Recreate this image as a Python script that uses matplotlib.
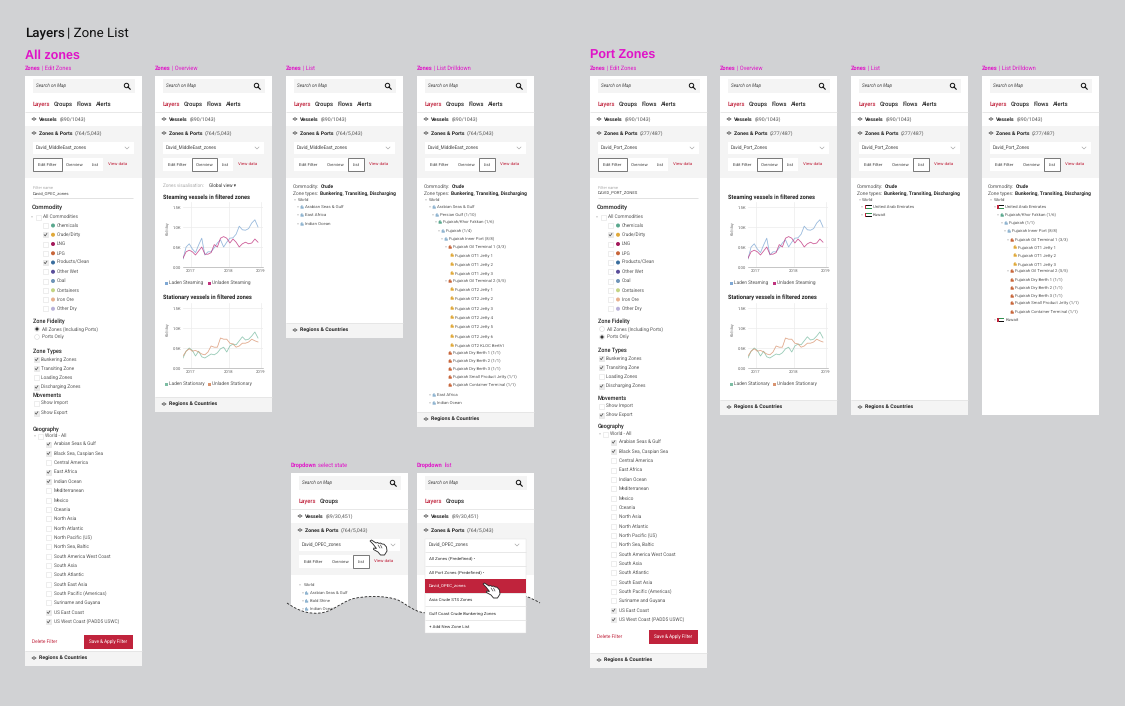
import numpy as np
import pandas as pd
import matplotlib
matplotlib.use('Agg')
import matplotlib.pyplot as plt
from matplotlib.patches import Rectangle, Circle, Polygon, PathPatch
from matplotlib.path import Path

plt.rcParams['font.family'] = ['Roboto', 'DejaVu Sans']
plt.rcParams['text.hinting'] = 'none'

# data
months = pd.date_range('2016-10-16', periods=25, freq='30D')
laden_steering = [.20, .50, .58, .45, .36, .55, .72, .30, .38, .38, .48, .60, .68, .50, .62, .72, .73, .82, 1.02, .93, .92, .96, 1.10, 1.18, 1.00]
unladen_steering = [.22, .38, .42, .38, .30, .40, .50, .32, .32, .36, .56, .50, .72, .76, .72, .60, .70, .62, .50, .58, .62, .58, .60, .70, .62]
laden_stationary = [.25, .42, .50, .44, .30, .42, .28, .25, .30, .35, .33, .38, .48, .52, .40, .55, .60, .58, .68, .78, .70, .72, .80, .90, .75]
unladen_stationary = [.30, .42, .48, .42, .44, .40, .35, .33, .40, .55, .52, .52, .75, .72, .72, .62, .60, .52, .55, .62, .62, .65, .72, .68, .65]
y_ticks = [0, .5, 1.0, 1.5]
y_labels = ['0.00', '0.5K', '1.0K', '1.5K']
x_labels = ['2017', '2018', '2019']

commodities = ['Chemicals', 'Crude/Dirty', 'LNG', 'LPG', 'Products/Clean', 'Other Wet', 'Coal', 'Containers', 'Iron Ore', 'Other Dry']
commodity_colors = ['#5aa88e', '#e0a93a', '#a3195b', '#c8663a', '#3a6e9e', '#5a4e9a', '#6e94b8', '#c4d484', '#e8b08e', '#b8b0d8']
checked_all = [0, 1, 0, 0, 1, 0, 0, 0, 0, 0]
checked_port = [0, 1, 0, 0, 0, 0, 0, 0, 0, 0]
zone_types = ['Bunkering Zones', 'Transiting Zone', 'Loading Zones', 'Discharging Zones']
zone_types_on = [1, 1, 0, 1]
geography = ['Arabian Seas & Gulf', 'Black Sea, Caspian Sea', 'Central America', 'East Africa', 'Indian Ocean',
             'Mediterranean', 'Mexico', 'Oceania', 'North Asia', 'North Atlantic', 'North Pacific (US)',
             'North Sea, Baltic', 'South America West Coast', 'South Asia', 'South Atlantic', 'South East Asia',
             'South Pacific (Americas)', 'Suriname and Guyana', 'US East Coast', 'US West Coast (PADD5 USWC)']
geo_all_on = [1, 1, 0, 1, 1, 0, 0, 0, 0, 0, 0, 0, 0, 0, 0, 0, 0, 0, 1, 1]
geo_port_on = [1, 1, 0, 0, 0, 0, 0, 0, 0, 0, 0, 0, 0, 0, 0, 0, 0, 0, 1, 1]
drill_labels = ['Arabian Seas & Gulf', 'Persian Gulf (1/10)', 'Fujairah/Khor Fakkan (1/6)', 'Fujairah (1/4)',
                'Fujairah Inner Port (8/8)', 'Fujairah Oil Terminal 1 (3/3)', 'Fujairah OT1 Jetty 1', 'Fujairah OT1 Jetty 2',
                'Fujairah OT1 Jetty 3', 'Fujairah Oil Terminal 2 (5/5)', 'Fujairah OT2 Jetty 1', 'Fujairah OT2 Jetty 2',
                'Fujairah OT2 Jetty 3', 'Fujairah OT2 Jetty 4', 'Fujairah OT2 Jetty 5', 'Fujairah OT2 Jetty 6',
                'Fujairah OT2 KLOC Berth1', 'Fujairah Dry Berth 1 (1/1)', 'Fujairah Dry Berth 2 (1/1)', 'Fujairah Dry Berth 3 (1/1)',
                'Fujairah Small Product Jetty (1/1)', 'Fujairah Container Terminal (1/1)', 'East Africa', 'Indian Ocean']
drill_y = [207, 215, 222, 231, 239, 247, 255, 264, 273, 281, 289, 298, 308, 317, 326, 336, 345, 353, 361, 369, 377, 385, 395, 403]
drill_x = [20, 23, 26, 29, 32, 36, 38, 38, 38, 36, 38, 38, 38, 38, 38, 38, 38, 36, 36, 36, 36, 36, 20, 20]
drill_kind = 'bbgbbrjjjrjjjjjjjrrrrrbb'
port_labels = ['Fujairah/Khor Fakkan (1/6)', 'Fujairah (1/1)', 'Fujairah Inner Port (8/8)', 'Fujairah Oil Terminal 1 (3/3)',
               'Fujairah OT1 Jetty 1', 'Fujairah OT1 Jetty 2', 'Fujairah OT1 Jetty 3', 'Fujairah Oil Terminal 2 (5/5)',
               'Fujairah Dry Berth 1 (1/1)', 'Fujairah Dry Berth 2 (1/1)', 'Fujairah Dry Berth 3 (1/1)',
               'Fujairah Small Product Jetty (1/1)', 'Fujairah Container Terminal (1/1)']
port_y = [215, 223, 231, 240, 247, 255, 264, 271, 280, 288, 296, 303, 312]
port_x = [23, 27, 30, 33, 36, 36, 36, 33, 33, 33, 33, 33, 33]
port_kind = 'gbbrjjjrrrrrr'
dropdown_items = ['All Zones (Predefined)', 'All Port Zones (Predefined)', 'David_OPEC_zones', 'Asia Crude STS Zones',
                  'Gulf Coast Crude Bunkering Zones', '+ Add New Zone List']

BG = '#d1d2d4'
GREY = '#f4f4f4'
RED = '#c0233c'
MAG = '#e012c8'
DARK = '#222222'
MID = '#555555'
LINE = '#e4e4e4'
kind_colors = {'b': '#8fb4d0', 'g': '#5aa88e', 'r': '#c8663a', 'j': '#e0a93a'}

fig = plt.figure(figsize=(11.25, 7.06), dpi=100, facecolor=BG)
ax = fig.add_axes([0, 0, 1, 1])
ax.set_xlim(0, 1125)
ax.set_ylim(706, 0)
ax.axis('off')
renderer = fig.canvas.get_renderer()


def t(x, y, s, size=3.5, color=MID, weight='normal', ha='left', z=5):
    return ax.text(x, y, s, fontsize=size, color=color, fontweight=weight, ha=ha, va='center', zorder=z)


# two styles on one line, on the same baseline
def t2(x, y, first, rest, size=3.8, color=DARK, color2=MID, w1='bold', w2='normal', z=5, gap=1.7):
    base = y + size * 0.5
    a = ax.text(x, base, first, fontsize=size, color=color, fontweight=w1, va='baseline', zorder=z)
    end = a.get_window_extent(renderer).x1
    ax.text(end + gap, base, rest, fontsize=size, color=color2, fontweight=w2, va='baseline', zorder=z)


def box(x0, y0, x1, y1, fc='white', ec='none', lw=0, z=2):
    ax.add_patch(Rectangle((x0, y0), x1 - x0, y1 - y0, fc=fc, ec=ec, lw=lw, zorder=z))


def hline(x0, x1, y, c=LINE, lw=0.6, z=3):
    ax.plot([x0, x1], [y, y], color=c, lw=lw, zorder=z, solid_capstyle='butt')


def eye(x, y):
    ax.add_patch(Polygon([(x - 2.2, y), (x, y - 1.4), (x + 2.2, y), (x, y + 1.4)], fc='none', ec=DARK, lw=0.35, zorder=5))
    ax.add_patch(Circle((x, y), 0.6, fc=DARK, ec='none', zorder=5))


def check(x, y, on, s=5):
    box(x, y - s / 2, x + s, y + s / 2, fc='#ececec' if on else 'white', ec='#e0e0e0', lw=0.4, z=3)
    if on:
        ax.plot([x + 1.2, x + 2.2, x + 3.9], [y, y + 1.2, y - 1.3], color='#444444', lw=0.5, zorder=4)


def icon(x, y, kind):
    ax.add_patch(Polygon([(x, y + 1.7), (x, y - 0.6), (x + 1.2, y - 1.8), (x + 2.0, y - 1.8), (x + 2.0, y - 0.4), (x + 3.2, y - 0.4), (x + 3.2, y + 1.7)],
                         fc=kind_colors[kind], ec='none', zorder=4))


def arrow(x, y):
    ax.add_patch(Polygon([(x - 0.8, y - 0.5), (x + 0.8, y - 0.5), (x, y + 0.6)], fc='#888888', ec='none', zorder=4))


def flag(x, y, colors):
    h = 1.2
    for i, c in enumerate(colors):
        box(x + 1.6, y - 1.8 + i * h, x + 7, y - 1.8 + (i + 1) * h, fc=c, z=4)
    box(x, y - 1.8, x + 1.6, y + 1.8, fc='#c0233c', z=4)


def hand(x, y):
    pts = np.array([(0, 1), (1.5, 0), (6, 3), (7.5, 2.5), (9, 3.4), (10.5, 3), (12, 4), (14, 4.2), (16.5, 7), (17, 11),
                    (14.5, 15), (10.5, 15), (8, 12), (3.5, 9.5), (3.8, 8), (6.5, 8.5), (3, 4)])
    ax.add_patch(Polygon(pts + (x, y), fc='white', ec='#222222', lw=0.6, zorder=9))
    ax.plot([x + 8, x + 10], [y + 5, y + 8], color='#222222', lw=0.4, zorder=10)
    ax.plot([x + 10.5, x + 12], [y + 5, y + 8], color='#222222', lw=0.4, zorder=10)


def panel(x, top, bottom, label, label2, count, zone_name, active, vessels='(890/1043)', tabs=('Layers', 'Groups', 'Flows', 'Alerts'), regions=True):
    t2(x, top - 8, label, label2, size=4.1, color=MAG, color2=MAG)
    box(x, top, x + 117, bottom)
    box(x + 8, top + 3, x + 110, top + 17, fc=GREY)
    t(x + 11, top + 10, 'Search on Map', 3.3, '#444444').set_style('italic')
    ax.add_patch(Circle((x + 101.5, top + 9.5), 2.2, fc='none', ec='#111111', lw=0.7, zorder=4))
    ax.plot([x + 103, x + 105.2], [top + 11, top + 13.2], color='#111111', lw=0.8, zorder=4)
    for tab, tx in zip(tabs, [8, 29, 52, 71]):
        t(x + tx, top + 28, tab, 4.2, RED if tab == 'Layers' else DARK, 'medium')
    hline(x, x + 117, top + 36)
    eye(x + 9, top + 43)
    t2(x + 14, top + 43, 'Vessels', vessels)
    box(x, top + 50, x + 117, top + 102, fc=GREY)
    eye(x + 9, top + 57)
    t2(x + 14, top + 57, 'Zones & Ports', count)
    box(x + 8, top + 66, x + 109, top + 78)
    t(x + 11, top + 72, zone_name, 3.3, '#444444')
    ax.plot([x + 100, x + 102, x + 104], [top + 71, top + 73, top + 71], color='#999999', lw=0.4, zorder=4)
    for name, x0, x1 in [('Edit Filter', 8, 37), ('Overview', 37, 62), ('List', 62, 78)]:
        on = name == active
        box(x + x0, top + 82, x + x1, top + 95, ec='#777777' if on else 'none', lw=0.7 if on else 0, z=4 if on else 3)
        t(x + (x0 + x1) / 2, top + 88.5, name, 3.2, '#444444', ha='center')
    t(x + 83, top + 88, 'View data', 3.2, RED)
    if regions:
        box(x, bottom - 15, x + 117, bottom, fc=GREY, z=3)
        hline(x, x + 117, bottom - 15)
        eye(x + 9, bottom - 8)
        t(x + 14, bottom - 8, 'Regions & Countries', 3.8, DARK, 'bold')


def filter_form(x, name, fid_y, fidelity, zt_y, mv_y, mv_head, geo_head, geo_y0, checked_c, checked_g, foot_y):
    t(x + 8, 188, 'Filter name', 2.9, '#aaaaaa')
    t(x + 8, 194, name, 3.1, '#444444')
    hline(x + 8, x + 108, 198, '#dddddd')
    t(x + 7, 207, 'Commodity', 4.3, DARK, 'medium')
    arrow(x + 7, 217)
    check(x + 11, 217, 0)
    t(x + 18, 217, 'All Commodities', 3.4)
    for i, (name_, c, on) in enumerate(zip(commodities, commodity_colors, checked_c)):
        y = 225.5 + i * 9.25
        check(x + 18, y, on)
        ax.add_patch(Circle((x + 28, y), 2, fc=c, ec='none', zorder=4))
        t(x + 32, y, name_, 3.4)
    t(x + 8, fid_y, 'Zone Fidelity', 4.0, DARK, 'medium')
    for k, (lab, on) in enumerate(zip(['All Zones (Including Ports)', 'Ports Only'], fidelity)):
        y = fid_y + 8 + 8 * k
        ax.add_patch(Circle((x + 12, y), 2.4, fc='white', ec='#d8d8d8', lw=0.4, zorder=4))
        if on:
            ax.add_patch(Circle((x + 12, y), 1.6, fc='#333333', ec='none', zorder=5))
        t(x + 17, y, lab, 3.4)
    t(x + 8, zt_y, 'Zone Types', 4.0, DARK, 'medium')
    for k, (lab, on) in enumerate(zip(zone_types, zone_types_on)):
        y = zt_y + 8.5 + 9.2 * k
        check(x + 9, y, on)
        t(x + 16, y, lab, 3.4)
    t(x + 8, mv_head, 'Movements', 4.0, DARK, 'medium')
    for y, lab, on in zip(mv_y, ['Show Import', 'Show Export'], [0, 1]):
        check(x + 9, y, on)
        t(x + 16, y, lab, 3.4)
    t(x + 8, geo_head, 'Geography', 4.0, DARK, 'medium')
    arrow(x + 10, geo_y0 - 8)
    check(x + 13, geo_y0 - 8, 0)
    t(x + 20, geo_y0 - 8, 'World - All', 3.4)
    for i, (lab, on) in enumerate(zip(geography, checked_g)):
        y = geo_y0 + i * 9.35
        check(x + 21, y, on)
        t(x + 29, y, lab, 3.4)
    t(x + 7, foot_y, 'Delete Filter', 3.4, RED)
    box(x + 59, foot_y - 7, x + 108, foot_y + 6.5, fc=RED, z=3)
    t(x + 83.5, foot_y, 'Save & Apply Filter', 3.3, 'white', ha='center')


def chart(x, top, series, colors, names, title, title_y):
    t(x + 8, title_y, title, 4.1, DARK, 'bold')
    a = fig.add_axes([(x + 28) / 1125, 1 - (top + 65) / 706, 80 / 1125, 65 / 706], facecolor='white', zorder=6)
    for s, c in zip(series, colors):
        a.plot(months, s, color=c, lw=0.55, alpha=0.85)
    a.set_xlim(pd.Timestamp('2017-01-01') - pd.Timedelta(days=77), pd.Timestamp('2018-01-01') + pd.Timedelta(days=326))
    a.set_ylim(0, 1.625)
    a.set_yticks(y_ticks, y_labels)
    a.set_xticks([pd.Timestamp('2017-01-01'), pd.Timestamp('2018-01-01'), pd.Timestamp('2018-11-04')], x_labels)
    a.tick_params(length=0, labelsize=3.1, labelcolor='#666666', pad=1.5)
    a.grid(color='#ececec', lw=0.5)
    a.set_axisbelow(True)
    for side in ['top', 'left', 'right']:
        a.spines[side].set_visible(False)
    a.spines['bottom'].set_color('#999999')
    a.spines['bottom'].set_linewidth(0.4)
    lab = t(x + 12, top + 26, 'Kbl/day', 2.9, '#777777', ha='center')
    lab.set_rotation(90)
    lx = [x + 10, x + 53]
    for k, (c, n) in enumerate(zip(colors, names)):
        box(lx[k], top + 79.5, lx[k] + 3, top + 82.5, fc=c, z=4)
        t(lx[k] + 4, top + 81, n, 3.4)


def overview(x, view_line):
    if view_line:
        t(x + 8, 186, 'Zones visualisation:', 3.3, '#aaaaaa')
        t(x + 54, 186, 'Global view \u25be', 3.3, '#333333')
    chart(x, 202, [laden_steering, unladen_steering], ['#7fa8d4', '#c0337e'],
          ['Laden Steaming', 'Unladen Steaming'], 'Steaming vessels in filtered zones', 197)
    chart(x, 303, [laden_stationary, unladen_stationary], ['#7dbda4', '#d99470'],
          ['Laden Stationary', 'Unladen Stationary'], 'Stationary vessels in filtered zones', 297)


def list_head(x, cx):
    t2(x + cx, 186, 'Commodity:', 'Crude', size=3.5, color=MID, color2=DARK, w1='normal', w2='bold')
    t2(x + cx, 193, 'Zone types:', 'Bunkering, Transiting, Discharging', size=3.5, color=MID, color2=DARK, w1='normal', w2='bold')


# page titles
t2(25, 32, 'Layers', '| Zone List', size=9.6, color='#111111', color2='#111111', w1='medium', w2='normal', gap=2.5)
ax.text(25, 58.5, 'All zones', fontsize=9, color=MAG, fontweight='bold', family='Liberation Sans', va='baseline')
ax.text(590, 58.5, 'Port Zones', fontsize=9, color=MAG, fontweight='bold', family='Liberation Sans', va='baseline')

# all zones
middle = 'David_MiddleEast_zones'
panel(25, 76, 666, 'Zones', '| Edit Zones', '(764/5,043)', middle, 'Edit Filter')
filter_form(25, 'David_OPEC_zones', 321, [1, 0], 351, [403, 413], 395, 429, 444, checked_all, geo_all_on, 642)
panel(155, 76, 412, 'Zones', '| Overview', '(764/5,043)', middle, 'Overview')
overview(155, True)
panel(286, 76, 338, 'Zones', '| List', '(764/5,043)', middle, 'List')
list_head(286, 7)
arrow(295, 200)
t(298, 200, 'World', 3.2)
for y, lab in zip([207, 215, 224], ['Arabian Seas & Gulf', 'East Africa', 'Indian Ocean']):
    arrow(298, y)
    icon(300.5, y, 'b')
    t(305, y, lab, 3.2)
panel(417, 76, 427, 'Zones', '| List Drilldown', '(764/5,043)', middle, 'List')
list_head(417, 7)
arrow(426, 200)
t(429, 200, 'World', 3.2)
for lab, y, dx, k in zip(drill_labels, drill_y, drill_x, drill_kind):
    if k != 'j' and 'Berth' not in lab and 'Small' not in lab and 'Container' not in lab:
        arrow(417 + dx - 7, y)
    icon(417 + dx - 4.4, y, k)
    t(417 + dx, y, lab, 3.1)

# dropdown states
panel(291, 473, 640, 'Dropdown', 'select state', '(764/5,043)', 'David_OPEC_zones', 'List', '(89/30,451)', ('Layers', 'Groups'), False)
panel(417, 473, 640, 'Dropdown', 'list', '(764/5,043)', 'David_OPEC_zones', 'List', '(89/30,451)', ('Layers', 'Groups'), False)
arrow(300, 585)
t(304, 585, 'World', 3.2)
for y, lab in zip([593, 601, 609], ['Arabian Seas & Gulf', 'Bald Shine', 'Indian Ocean']):
    arrow(303, y)
    icon(305, y, 'b')
    t(309.5, y, lab, 3.1)
wave = [(287, 603), (300, 612), (310, 614), (320, 613), (332, 612), (340, 603), (352, 599), (362, 596), (385, 595), (398, 600),
        (408, 605), (415, 613), (428, 613), (445, 612), (458, 600), (470, 597), (488, 592), (510, 592), (525, 596), (531, 598),
        (535, 600), (540, 603)]
codes = [Path.MOVETO] + [Path.CURVE4] * (len(wave) - 1)
fill_codes = codes + [Path.LINETO, Path.LINETO, Path.CLOSEPOLY]
ax.add_patch(PathPatch(Path(wave + [(540, 645), (287, 645), (287, 603)], fill_codes), fc=BG, ec='none', zorder=6))
ax.add_patch(PathPatch(Path(wave, codes), fc='none', ec='#222222', lw=0.6, ls=(0, (3, 2)), zorder=7))
box(425, 539, 526, 633, ec='#e0e0e0', lw=0.3, z=7)
hline(425, 526, 552, LINE, z=8)
for i, lab in enumerate(dropdown_items):
    y0 = 552 + i * 13.5
    y = y0 + 7
    if i == 2:
        box(425, y0, 526, y0 + 14, fc=RED, z=8)
    elif i > 0:
        hline(425, 526, y0, LINE, z=8)
    if 'Predefined' in lab:
        lab = lab + ' \u2022'
    t(429, y, lab, 3.2, 'white' if i == 2 else '#333333', z=9)
t(429, 545, 'David_OPEC_zones', 3.3, '#444444', z=9)
ax.plot([515, 517, 519], [544, 546, 544], color='#999999', lw=0.4, zorder=9)
hand(370, 540)
hand(483, 583)

# port zones
port = 'David_Port_Zones'
panel(590, 76, 668, 'Zones', '| Edit Zones', '(277/487)', port, 'Edit Filter')
filter_form(590, 'DAVID_PORT_ZONES', 321, [0, 1], 350, [406, 415], 398, 426, 442, checked_port, geo_port_on, 637)
panel(720, 76, 415, 'Zones', '| Overview', '(277/487)', port, 'Overview')
overview(720, False)
panel(851, 76, 415, 'Zones', '| List', '(277/487)', port, 'List', regions=True)
list_head(851, 6)
arrow(860, 200)
t(862, 200, 'World', 3.2)
uae = ['#111111', '#ffffff', '#2f8f4e']
kuwait = ['#2f8f4e', '#ffffff', '#111111']
for y, lab, fl in zip([207, 215], ['United Arab Emirates', 'Kuwait'], [uae, kuwait]):
    arrow(862, y)
    flag(864.5, y, fl)
    t(873, y, lab, 3.2)
panel(982, 76, 415, 'Zones', '| List Drilldown', '(277/487)', port, 'List', regions=False)
list_head(982, 6)
arrow(991, 200)
t(994, 200, 'World', 3.2)
arrow(995, 207)
flag(997, 207, uae)
t(1005, 207, 'United Arab Emirates', 3.2)
for lab, y, dx, k in zip(port_labels, port_y, port_x, port_kind):
    if k != 'j' and 'Berth' not in lab and 'Small' not in lab and 'Container' not in lab:
        arrow(982 + dx - 7, y)
    icon(982 + dx - 4.4, y, k)
    t(982 + dx, y, lab, 3.1)
arrow(995, 320)
flag(997, 320, kuwait)
t(1006, 320, 'Kuwait', 3.2)

fig.savefig('out.png', dpi=100, facecolor=BG)
